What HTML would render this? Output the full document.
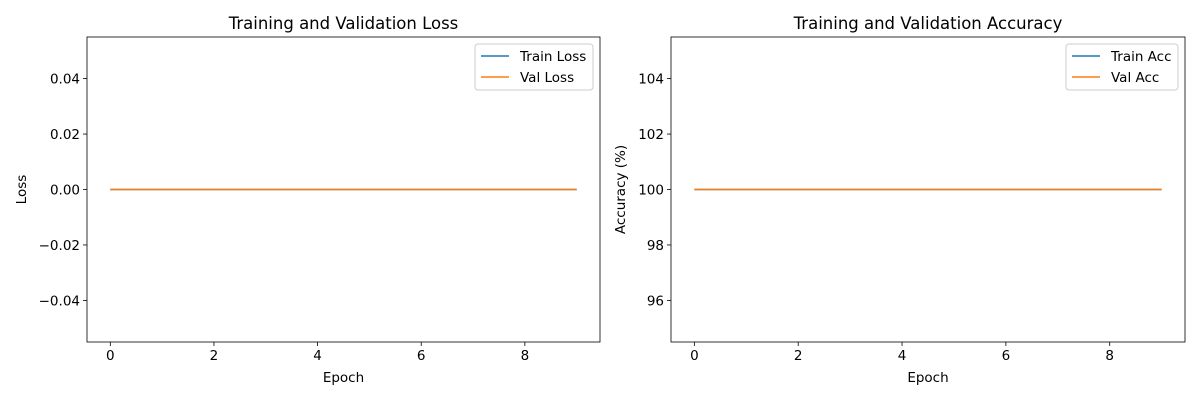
<!DOCTYPE html>
<html><head><meta charset="utf-8">
<style>
html,body{margin:0;padding:0;background:#fff;}
svg{display:block;font-family:"DejaVu Sans","Liberation Sans",sans-serif;}
</style></head>
<body>
<svg id="chart" width="1200" height="400" viewBox="0 0 1200 400"></svg>
<script>
const epochs = [0,1,2,3,4,5,6,7,8,9];
const trainLoss = [0,0,0,0,0,0,0,0,0,0];
const valLoss = [0,0,0,0,0,0,0,0,0,0];
const trainAcc = [100,100,100,100,100,100,100,100,100,100];
const valAcc = [100,100,100,100,100,100,100,100,100,100];
const xTicks = [0,2,4,6,8];
const lossTicks = [-0.04,-0.02,0,0.02,0.04];
const lossTickLabels = ["\u22120.04","\u22120.02","0.00","0.02","0.04"];
const accTicks = [96,98,100,102,104];
const accTickLabels = ["96","98","100","102","104"];

const NS = "http://www.w3.org/2000/svg";
const svg = document.getElementById('chart');
const FS = 13.5, TFS = 16.5;
function el(tag, attrs, parent){
  const e = document.createElementNS(NS, tag);
  for (const k in attrs) e.setAttribute(k, attrs[k]);
  (parent||svg).appendChild(e);
  return e;
}
function panel(cfg){
  const g = el('g', {});
  
  
  const L=cfg.left, R=cfg.right, T=37, B=342;
  const xs = v => L + (v - cfg.xmin)/(cfg.xmax-cfg.xmin)*(R-L);
  const ys = v => B - (v - cfg.ymin)/(cfg.ymax-cfg.ymin)*(B-T);
  xTicks.forEach(t=>{
    const x = xs(t);
    const tk = el('line',{x1:x,x2:x,y1:B,y2:B+4,stroke:'#000','stroke-width':0.8},g);
    
    
    const tx = el('text',{x:x,y:B+18,'text-anchor':'middle','font-size':FS,fill:'#000'},g);
    tx.textContent = t;
    
    
  });
  cfg.yTicks.forEach((t,i)=>{
    const y = ys(t);
    const tk = el('line',{x1:L-4,x2:L,y1:y,y2:y,stroke:'#000','stroke-width':0.8},g);
    
    
    const tx = el('text',{x:L-7,y:y+5,'text-anchor':'end','font-size':FS,fill:'#000'},g);
    tx.textContent = cfg.yLabels[i];
    
    
  });
  const colors=['#1f77b4','#ff7f0e'];
  cfg.series.forEach((s,si)=>{
    const pts = epochs.map((e,i)=>xs(e)+','+ys(s.values[i])).join(' ');
    const pl = el('polyline',{points:pts,fill:'none',stroke:colors[si],'stroke-width':1.5},g);
    
    
  });
  const fr = el('rect',{x:L,y:T,width:R-L,height:B-T,fill:'none',stroke:'#000','stroke-width':0.8},g);
  
  
  const ti = el('text',{x:(L+R)/2,y:29,'text-anchor':'middle','font-size':TFS,fill:'#000'},g);
  ti.textContent = cfg.title;
  
  
  const xl = el('text',{x:(L+R)/2,y:382,'text-anchor':'middle','font-size':FS,fill:'#000'},g);
  xl.textContent = 'Epoch';
  
  
  const yl = el('text',{x:0,y:0,'text-anchor':'middle','font-size':FS,fill:'#000',transform:`translate(${cfg.yTitleX},${(T+B)/2}) rotate(-90)`},g);
  yl.textContent = cfg.yTitle;
  
  
  const lg = el('g',{},g);
  
  
  const lx = cfg.legendX, lw = cfg.legendW;
  el('rect',{x:lx,y:44,width:lw,height:46,rx:3,fill:'#fff','fill-opacity':0.8,stroke:'#ccc','stroke-width':1},lg);
  cfg.series.forEach((s,si)=>{
    const y = 56 + si*21;
    const ent = el('g',{},lg);
    
    
    el('line',{x1:lx+6,x2:lx+34,y1:y,y2:y,stroke:colors[si],'stroke-width':1.5},ent);
    const t = el('text',{x:lx+45,y:y+5,'font-size':FS,fill:'#000'},ent);
    t.textContent = s.label;
  });
}
panel({name:'loss-chart',left:87,right:600,xmin:-0.45,xmax:9.45,ymin:-0.055,ymax:0.055,
  yTicks:lossTicks,yLabels:lossTickLabels,title:'Training and Validation Loss',yTitle:'Loss',yTitleX:26,
  legendX:475,legendW:118,
  series:[{id:'train-loss-line',label:'Train Loss',values:trainLoss},{id:'val-loss-line',label:'Val Loss',values:valLoss}]});
panel({name:'accuracy-chart',left:671,right:1185,xmin:-0.45,xmax:9.45,ymin:94.5,ymax:105.5,
  yTicks:accTicks,yLabels:accTickLabels,title:'Training and Validation Accuracy',yTitle:'Accuracy (%)',yTitleX:625,
  legendX:1066,legendW:112,
  series:[{id:'train-acc-line',label:'Train Acc',values:trainAcc},{id:'val-acc-line',label:'Val Acc',values:valAcc}]});
</script>
</body></html>
